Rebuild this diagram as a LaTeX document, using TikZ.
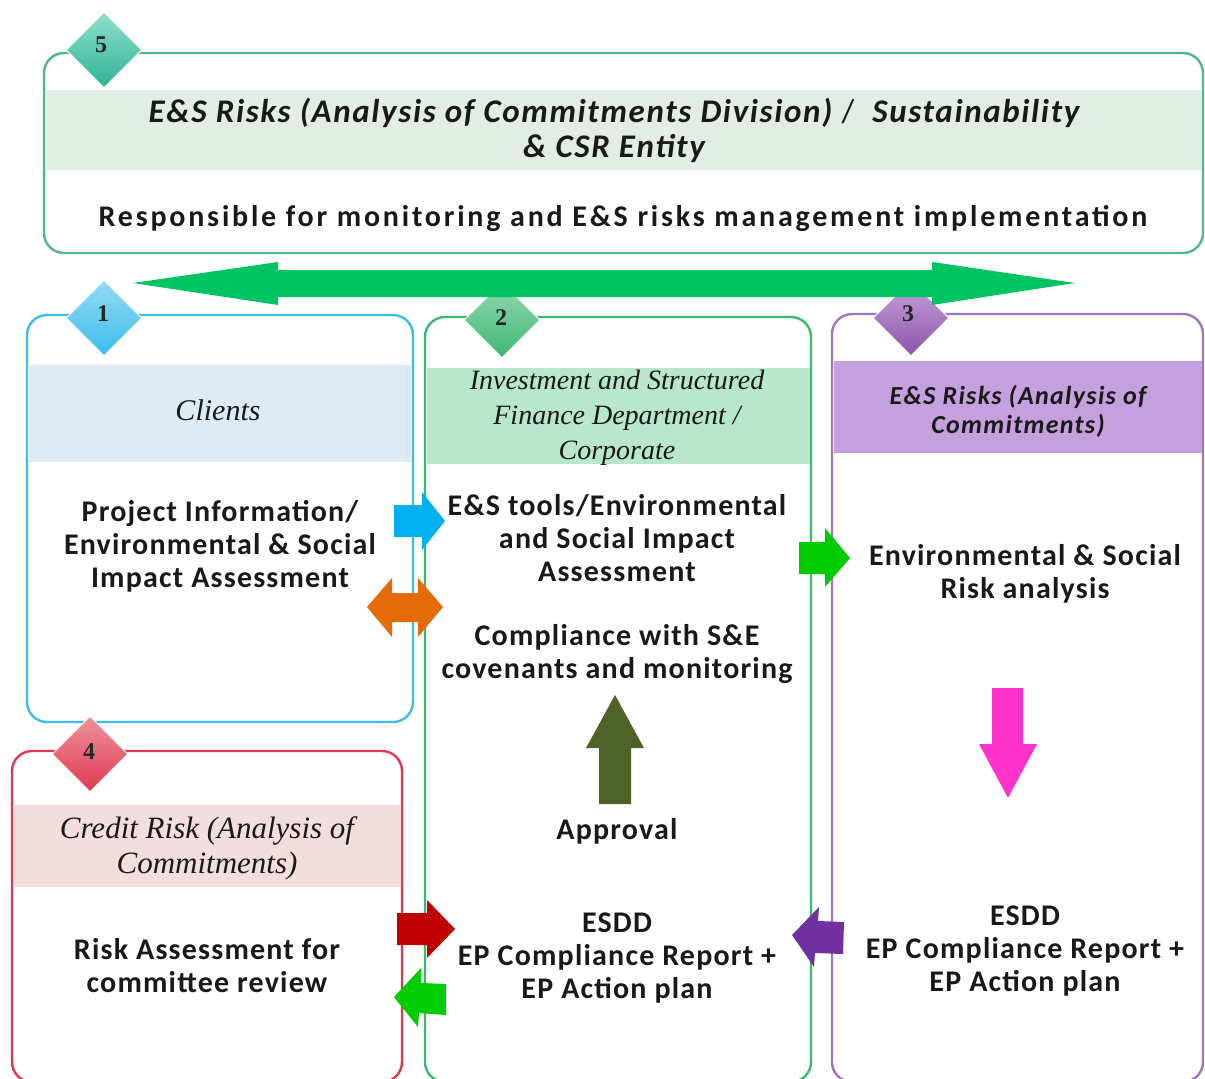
\documentclass[tikz,border=0pt]{standalone}
\usepackage{fontspec}
\setmainfont{Carlito}
\newfontfamily\serifit{Liberation Serif}
\newfontfamily\bodyfont[LetterSpace=4]{Carlito}
\newfontfamily\widefont[LetterSpace=9.3]{Carlito}
\newfontfamily\hdfivefont[LetterSpace=5]{Carlito}
\newfontfamily\hdthreefont[LetterSpace=5]{Carlito}
\usetikzlibrary{shapes.geometric}
\definecolor{c5}{HTML}{52B58C}
\definecolor{d5c}{HTML}{34C6A6}
\definecolor{f5}{HTML}{E2EEE3}
\definecolor{c1}{HTML}{3CBDEB}
\definecolor{f1}{HTML}{DEEBF7}
\definecolor{c2}{HTML}{3DB873}
\definecolor{f2}{HTML}{B9E7CD}
\definecolor{c3}{HTML}{A276BE}
\definecolor{d3c}{HTML}{9A5CBE}
\definecolor{f3}{HTML}{C4A0DF}
\definecolor{c4}{HTML}{E0394E}
\definecolor{f4}{HTML}{F3DEDE}
\definecolor{bigg}{HTML}{00C462}
\definecolor{ablue}{HTML}{00B0F0}
\definecolor{aorange}{HTML}{E36C09}
\definecolor{agreen}{HTML}{00CC00}
\definecolor{aolive}{HTML}{4F6228}
\definecolor{apink}{HTML}{FF33CC}
\definecolor{apurple}{HTML}{7030A0}
\definecolor{ared}{HTML}{C00000}
\tikzset{
 box/.style={rectangle, rounded corners=20pt, line width=2.4pt, fill=white, inner sep=0pt},
 band/.style={rectangle, inner sep=0pt, draw=none},
 dia/.style={diamond, aspect=1, inner sep=0pt, minimum size=76pt, draw=white, line width=1pt},
 num/.style={font=\serifit\bfseries\fontsize{24}{24}\selectfont, text=black!85},
 body/.style={align=center, font=\bodyfont\bfseries\fontsize{30}{33}\selectfont, text=black!90, inner sep=0pt},
 hdser/.style={align=center, font=\serifit\itshape\fontsize{28}{35}\selectfont, text=black!90, inner sep=0pt},
 hdcal/.style={align=center, font=\hdthreefont\bfseries\itshape\fontsize{26}{29}\selectfont, text=black!90, inner sep=0pt},
}
\begin{document}
\begin{tikzpicture}[x=1pt,y=-1pt]
\useasboundingbox (0,0) rectangle (1205,1079);
% boxes
\node[box, draw=c5, minimum width=1159pt, minimum height=200pt] (b5) at (623.5,153) {};
\node[band, fill=f5, minimum width=1156pt, minimum height=80pt] (h5) at (623.5,130) {};
\node[box, draw=c1, minimum width=386pt, minimum height=407pt] (b1) at (220,518.5) {};
\node[band, fill=f1, minimum width=383pt, minimum height=97pt] (h1) at (220,413.5) {};
\node[box, draw=c2, minimum width=386pt, minimum height=765pt] (b2) at (618,699.5) {};
\node[band, fill=f2, minimum width=383pt, minimum height=96pt] (h2) at (618,416) {};
\node[box, draw=c3, minimum width=371pt, minimum height=768pt] (b3) at (1017.5,698) {};
\node[band, fill=f3, minimum width=368pt, minimum height=92pt] (h3) at (1017.5,407) {};
\node[box, draw=c4, minimum width=390pt, minimum height=331pt] (b4) at (207,916.5) {};
\node[band, fill=f4, minimum width=387pt, minimum height=82pt] (h4) at (207,846) {};
% diamonds
\node[dia, top color=d5c!55!white, bottom color=d5c!90!black] (d5) at (104,50) {};
\node[num] (n5) at (101,45) {5};
\node[dia, top color=c1!55!white, bottom color=c1] (d1) at (104,318) {};
\node[num] (n1) at (103,314) {1};
\node[dia, top color=c2!55!white, bottom color=c2] (d2) at (502,320) {};
\node[num] (n2) at (501,318) {2};
\node[dia, top color=d3c!55!white, bottom color=d3c!90!black] (d3) at (911,318) {};
\node[num] (n3) at (908,314) {3};
\node[dia, top color=c4!55!white, bottom color=c4] (d4) at (90,754) {};
\node[num] (n4) at (89,752) {4};
% arrows
\fill[bigg] (133,283) -- (278,262) -- (278,270) -- (932,270) -- (932,262) -- (1075,283) -- (932,305) -- (932,297) -- (278,297) -- (278,305) -- cycle;
\fill[ablue] (394,505) -- (422,505) -- (422,492) -- (445,521) -- (422,550) -- (422,537) -- (394,537) -- cycle;
\fill[aorange] (367,607) -- (392,578) -- (392,593) -- (418,593) -- (418,578) -- (443,607) -- (418,637) -- (418,622) -- (392,622) -- (392,637) -- cycle;
\fill[agreen] (799,542) -- (825,542) -- (825,528) -- (850,558) -- (825,587) -- (825,574) -- (799,574) -- cycle;
\fill[aolive] (615,695) -- (644,748) -- (631,748) -- (631,804) -- (599,804) -- (599,748) -- (586,748) -- cycle;
\fill[apink] (992,688) -- (1023,688) -- (1023,744) -- (1037,744) -- (1008,798) -- (979,744) -- (992,744) -- cycle;
\fill[apurple] (792,935) -- (819,907) -- (818,921) -- (844,922) -- (843,954) -- (815,953) -- (814,967) -- cycle;
\fill[ared] (397,913) -- (427,913) -- (427,900) -- (455,929) -- (427,958) -- (427,945) -- (397,945) -- cycle;
\fill[agreen] (394,997) -- (421,968) -- (421,983) -- (446,984) -- (446,1015) -- (419,1013) -- (418,1027) -- cycle;
% texts
\node[align=center, font=\hdfivefont\bfseries\itshape\fontsize{33}{35}\selectfont, text=black!90, inner sep=0pt] (t5a) at (614,130) {E\&S Risks (Analysis of Commitments Division)\ {\normalfont\upshape /}\ \ Sustainability\\\& CSR Entity};
\node[body, font=\widefont\bfseries\fontsize{30}{33}\selectfont] (t5b) at (623,218) {Responsible for monitoring and E\&S risks management implementation};
\node[hdser, font=\serifit\itshape\fontsize{30}{35}\selectfont] (t1a) at (218,410) {Clients};
\node[body] (t1b) at (220,546) {Project Information/\\Environmental \& Social\\Impact Assessment};
\node[hdser] (t2a) at (617,418) {Investment and Structured\\Finance Department /\\Corporate};
\node[body] (t2b) at (617,538) {E\&S tools/Environmental\\and Social Impact\\Assessment};
\node[body] (t2c) at (617,654) {Compliance with S\&E\\covenants and monitoring};
\node[body] (t2d) at (617,831) {Approval};
\node[body] (t2e) at (617,958) {ESDD\\EP Compliance Report +\\EP Action plan};
\node[hdcal] (t3a) at (1018,411) {E\&S Risks (Analysis of\\Commitments)};
\node[body] (t3b) at (1025,574) {Environmental \& Social\\Risk analysis};
\node[body] (t3c) at (1025,951) {ESDD\\EP Compliance Report +\\EP Action plan};
\node[hdser, font=\serifit\itshape\fontsize{31}{35}\selectfont] (t4a) at (207,848) {Credit Risk (Analysis of\\Commitments)};
\node[body] (t4b) at (207,966) {Risk Assessment for\\committee review};
\end{tikzpicture}
\end{document}
